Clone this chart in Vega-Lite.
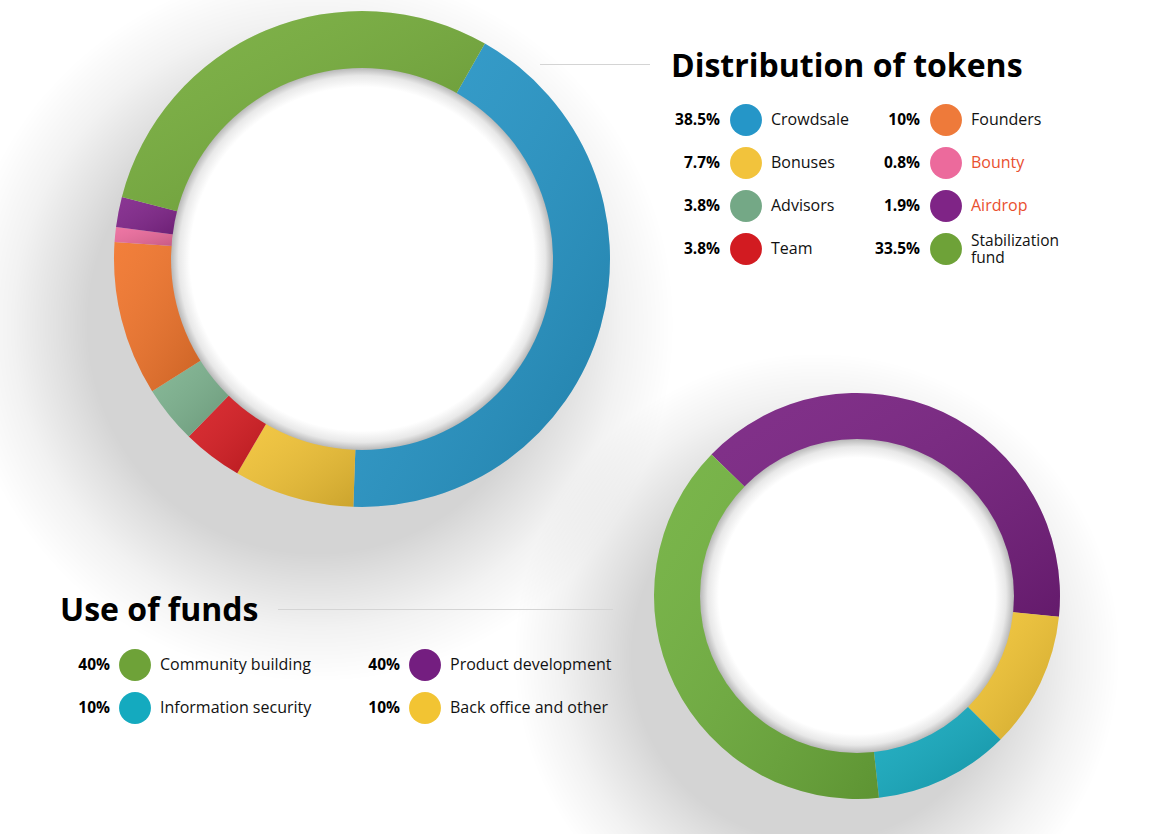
{
  "$schema": "https://vega.github.io/schema/vega-lite/v6.json",
  "width": 1172,
  "height": 834,
  "autosize": {"type": "none"},
  "padding": 0,
  "background": "#ffffff",
  "config": {"view": {"stroke": null}, "font": "Open Sans", "legend": {"disable": true}},
  "datasets": {
    "tokens": [
      {"panel": "tokens", "name": "Crowdsale", "label": "Crowdsale", "pct": "38.5%", "deg": 152.3, "seq": 1, "col": 1, "row": 1, "lines": 1},
      {"panel": "tokens", "name": "Bonuses", "label": "Bonuses", "pct": "7.7%", "deg": 28.2, "seq": 2, "col": 1, "row": 2, "lines": 1},
      {"panel": "tokens", "name": "Team", "label": "Team", "pct": "3.8%", "deg": 14.1, "seq": 3, "col": 1, "row": 4, "lines": 1},
      {"panel": "tokens", "name": "Advisors", "label": "Advisors", "pct": "3.8%", "deg": 13.5, "seq": 4, "col": 1, "row": 3, "lines": 1},
      {"panel": "tokens", "name": "Founders", "label": "Founders", "pct": "10%", "deg": 36.1, "seq": 5, "col": 2, "row": 1, "lines": 1},
      {"panel": "tokens", "name": "Bounty", "label": "Bounty", "pct": "0.8%", "deg": 3.5, "seq": 6, "col": 2, "row": 2, "lines": 1},
      {"panel": "tokens", "name": "Airdrop", "label": "Airdrop", "pct": "1.9%", "deg": 7.1, "seq": 7, "col": 2, "row": 3, "lines": 1},
      {"panel": "tokens", "name": "Stabilization fund", "label": "Stabilization\nfund", "pct": "33.5%", "deg": 105.2, "seq": 8, "col": 2, "row": 4, "lines": 2}
    ],
    "funds": [
      {"panel": "funds", "name": "Product development", "pct": "40%", "deg": 141.7, "seq": 1, "col": 2, "row": 1},
      {"panel": "funds", "name": "Back office and other", "pct": "10%", "deg": 39.1, "seq": 2, "col": 2, "row": 2},
      {"panel": "funds", "name": "Information security", "pct": "10%", "deg": 38.8, "seq": 3, "col": 1, "row": 2},
      {"panel": "funds", "name": "Community building", "pct": "40%", "deg": 140.4, "seq": 4, "col": 1, "row": 1}
    ],
    "panels": [
      {"panel": "tokens", "title": "Distribution of tokens"},
      {"panel": "funds", "title": "Use of funds"}
    ]
  },
  "resolve": {"scale": {"x": "independent", "y": "independent", "theta": "independent", "color": "independent", "size": "independent"}},
  "layer": [
    {
      "data": {"name": "panels"},
      "transform": [{"filter": "datum.panel === 'tokens'"}],
      "mark": {"type": "arc", "theta": 0, "theta2": 6.2832, "radius": 460, "radius2": 0,
        "fill": {"gradient": "radial", "x1": 0.451, "y1": 0.571, "r1": 0, "x2": 0.451, "y2": 0.571, "r2": 0.389,
          "stops": [{"offset": 0, "color": "rgba(0,0,0,0.17)"}, {"offset": 0.64, "color": "rgba(0,0,0,0.17)"}, {"offset": 0.72, "color": "rgba(0,0,0,0.12)"}, {"offset": 0.85, "color": "rgba(0,0,0,0.05)"}, {"offset": 1, "color": "rgba(0,0,0,0)"}]}},
      "encoding": {
        "x": {"field": "panel", "type": "nominal", "scale": {"type": "point", "domain": ["tokens", "funds"], "range": [362, 857], "padding": 0}, "axis": null},
        "y": {"field": "panel", "type": "nominal", "scale": {"type": "point", "domain": ["tokens", "funds"], "range": [259, 596], "padding": 0}, "axis": null}
      }
    },
    {
      "data": {"name": "panels"},
      "transform": [{"filter": "datum.panel === 'funds'"}],
      "mark": {"type": "arc", "theta": 0, "theta2": 6.2832, "radius": 400, "radius2": 0,
        "fill": {"gradient": "radial", "x1": 0.45, "y1": 0.575, "r1": 0, "x2": 0.45, "y2": 0.575, "r2": 0.379,
          "stops": [{"offset": 0, "color": "rgba(0,0,0,0.17)"}, {"offset": 0.61, "color": "rgba(0,0,0,0.17)"}, {"offset": 0.7, "color": "rgba(0,0,0,0.12)"}, {"offset": 0.85, "color": "rgba(0,0,0,0.05)"}, {"offset": 1, "color": "rgba(0,0,0,0)"}]}},
      "encoding": {
        "x": {"field": "panel", "type": "nominal", "scale": {"type": "point", "domain": ["tokens", "funds"], "range": [362, 857], "padding": 0}, "axis": null},
        "y": {"field": "panel", "type": "nominal", "scale": {"type": "point", "domain": ["tokens", "funds"], "range": [259, 596], "padding": 0}, "axis": null}
      }
    },
    {
      "data": {"name": "tokens"},
      "mark": {"type": "arc", "radius": 248, "radius2": 190},
      "encoding": {
        "x": {"field": "panel", "type": "nominal", "scale": {"type": "point", "domain": ["tokens", "funds"], "range": [362, 857], "padding": 0}, "axis": null},
        "y": {"field": "panel", "type": "nominal", "scale": {"type": "point", "domain": ["tokens", "funds"], "range": [259, 596], "padding": 0}, "axis": null},
        "theta": {"field": "deg", "type": "quantitative", "stack": true, "scale": {"domain": [0, 360], "range": [0.5184, 6.8016], "nice": false}},
        "order": {"field": "seq", "type": "quantitative"},
        "color": {"field": "name", "type": "nominal", "legend": null,
          "scale": {"domain": ["Crowdsale", "Bonuses", "Team", "Advisors", "Founders", "Bounty", "Airdrop", "Stabilization fund"],
            "range": ["#2596c8", "#f2c335", "#d71c22", "#7cb28e", "#f1742a", "#ec6a9c", "#80248a", "#75ad3a"]}}
      }
    },
    {
      "data": {"name": "tokens"},
      "mark": {"type": "arc", "radius": 248, "radius2": 190,
        "fill": {"gradient": "linear", "x1": 0, "y1": 0, "x2": 1, "y2": 1,
          "stops": [{"offset": 0, "color": "rgba(255,255,255,0.08)"}, {"offset": 1, "color": "rgba(0,0,0,0.16)"}]}},
      "encoding": {
        "x": {"field": "panel", "type": "nominal", "scale": {"type": "point", "domain": ["tokens", "funds"], "range": [362, 857], "padding": 0}, "axis": null},
        "y": {"field": "panel", "type": "nominal", "scale": {"type": "point", "domain": ["tokens", "funds"], "range": [259, 596], "padding": 0}, "axis": null},
        "theta": {"field": "deg", "type": "quantitative", "stack": true, "scale": {"domain": [0, 360], "range": [0.5184, 6.8016], "nice": false}},
        "order": {"field": "seq", "type": "quantitative"}
      }
    },
    {
      "data": {"name": "funds"},
      "mark": {"type": "arc", "radius": 203, "radius2": 156},
      "encoding": {
        "x": {"field": "panel", "type": "nominal", "scale": {"type": "point", "domain": ["tokens", "funds"], "range": [362, 857], "padding": 0}, "axis": null},
        "y": {"field": "panel", "type": "nominal", "scale": {"type": "point", "domain": ["tokens", "funds"], "range": [259, 596], "padding": 0}, "axis": null},
        "theta": {"field": "deg", "type": "quantitative", "stack": true, "scale": {"domain": [0, 360], "range": [5.4838, 11.767], "nice": false}},
        "order": {"field": "seq", "type": "quantitative"},
        "color": {"field": "name", "type": "nominal", "legend": null,
          "scale": {"domain": ["Product development", "Back office and other", "Information security", "Community building"],
            "range": ["#771f80", "#f2c433", "#14aabf", "#6fb03c"]}}
      }
    },
    {
      "data": {"name": "funds"},
      "mark": {"type": "arc", "radius": 203, "radius2": 156,
        "fill": {"gradient": "linear", "x1": 0, "y1": 0, "x2": 1, "y2": 1,
          "stops": [{"offset": 0, "color": "rgba(255,255,255,0.08)"}, {"offset": 1, "color": "rgba(0,0,0,0.16)"}]}},
      "encoding": {
        "x": {"field": "panel", "type": "nominal", "scale": {"type": "point", "domain": ["tokens", "funds"], "range": [362, 857], "padding": 0}, "axis": null},
        "y": {"field": "panel", "type": "nominal", "scale": {"type": "point", "domain": ["tokens", "funds"], "range": [259, 596], "padding": 0}, "axis": null},
        "theta": {"field": "deg", "type": "quantitative", "stack": true, "scale": {"domain": [0, 360], "range": [5.4838, 11.767], "nice": false}},
        "order": {"field": "seq", "type": "quantitative"}
      }
    },
    {
      "data": {"name": "panels"},
      "transform": [{"filter": "datum.panel === 'tokens'"}],
      "mark": {"type": "arc", "theta": 0, "theta2": 6.2832, "radius": 191, "radius2": 0,
        "fill": {"gradient": "radial", "x1": 0.5, "y1": 0.5, "r1": 0, "x2": 0.5, "y2": 0.5, "r2": 0.5,
          "stops": [{"offset": 0, "color": "#ffffff"}, {"offset": 0.9, "color": "#ffffff"}, {"offset": 0.96, "color": "#e8e8e8"}, {"offset": 1, "color": "#b8b8b8"}]}},
      "encoding": {
        "x": {"field": "panel", "type": "nominal", "scale": {"type": "point", "domain": ["tokens", "funds"], "range": [362, 857], "padding": 0}, "axis": null},
        "y": {"field": "panel", "type": "nominal", "scale": {"type": "point", "domain": ["tokens", "funds"], "range": [259, 596], "padding": 0}, "axis": null}
      }
    },
    {
      "data": {"name": "panels"},
      "transform": [{"filter": "datum.panel === 'funds'"}],
      "mark": {"type": "arc", "theta": 0, "theta2": 6.2832, "radius": 157, "radius2": 0,
        "fill": {"gradient": "radial", "x1": 0.5, "y1": 0.5, "r1": 0, "x2": 0.5, "y2": 0.5, "r2": 0.5,
          "stops": [{"offset": 0, "color": "#ffffff"}, {"offset": 0.88, "color": "#ffffff"}, {"offset": 0.95, "color": "#e8e8e8"}, {"offset": 1, "color": "#b8b8b8"}]}},
      "encoding": {
        "x": {"field": "panel", "type": "nominal", "scale": {"type": "point", "domain": ["tokens", "funds"], "range": [362, 857], "padding": 0}, "axis": null},
        "y": {"field": "panel", "type": "nominal", "scale": {"type": "point", "domain": ["tokens", "funds"], "range": [259, 596], "padding": 0}, "axis": null}
      }
    },
    {
      "data": {"name": "panels"},
      "mark": {"type": "tick", "orient": "horizontal", "thickness": 1, "color": "#d4d4d4", "opacity": 1},
      "encoding": {
        "x": {"field": "panel", "type": "nominal", "scale": {"type": "point", "domain": ["tokens", "funds"], "range": [595, 445.5], "padding": 0}, "axis": null},
        "y": {"field": "panel", "type": "nominal", "scale": {"type": "point", "domain": ["tokens", "funds"], "range": [64.5, 609.5], "padding": 0}, "axis": null},
        "size": {"field": "panel", "type": "nominal", "scale": {"type": "ordinal", "domain": ["tokens", "funds"], "range": [110, 335]}, "legend": null}
      }
    },
    {
      "data": {"name": "panels"},
      "mark": {"type": "text", "align": "left", "baseline": "alphabetic", "fontWeight": "bold", "fontSize": 32, "color": "#000000"},
      "encoding": {
        "x": {"field": "panel", "type": "nominal", "scale": {"type": "point", "domain": ["tokens", "funds"], "range": [671, 60], "padding": 0}, "axis": null},
        "y": {"field": "panel", "type": "nominal", "scale": {"type": "point", "domain": ["tokens", "funds"], "range": [77, 621], "padding": 0}, "axis": null},
        "text": {"field": "title", "type": "nominal"}
      }
    },
    {
      "data": {"name": "tokens"},
      "mark": {"type": "point", "shape": "circle", "filled": true, "size": 1018, "opacity": 1},
      "encoding": {
        "x": {"field": "col", "type": "ordinal", "scale": {"type": "point", "domain": [1, 2], "range": [746, 946], "padding": 0}, "axis": null},
        "y": {"field": "row", "type": "ordinal", "scale": {"type": "point", "domain": [1, 2, 3, 4], "range": [120, 249], "padding": 0}, "axis": null},
        "color": {"field": "name", "type": "nominal", "legend": null,
          "scale": {"domain": ["Crowdsale", "Bonuses", "Team", "Advisors", "Founders", "Bounty", "Airdrop", "Stabilization fund"],
            "range": ["#2596c8", "#f2c33c", "#d21b21", "#74a886", "#ee7a3a", "#ec6a9c", "#7f2486", "#6ea238"]}}
      }
    },
    {
      "data": {"name": "tokens"},
      "mark": {"type": "text", "align": "right", "baseline": "middle", "dx": -26, "fontWeight": "bold", "fontSize": 15.5, "color": "#000000"},
      "encoding": {
        "x": {"field": "col", "type": "ordinal", "scale": {"type": "point", "domain": [1, 2], "range": [746, 946], "padding": 0}, "axis": null},
        "y": {"field": "row", "type": "ordinal", "scale": {"type": "point", "domain": [1, 2, 3, 4], "range": [120, 249], "padding": 0}, "axis": null},
        "text": {"field": "pct", "type": "nominal"}
      }
    },
    {
      "data": {"name": "tokens"},
      "transform": [{"filter": "datum.lines === 1"}],
      "mark": {"type": "text", "align": "left", "baseline": "middle", "dx": 25, "fontSize": 16},
      "encoding": {
        "x": {"field": "col", "type": "ordinal", "scale": {"type": "point", "domain": [1, 2], "range": [746, 946], "padding": 0}, "axis": null},
        "y": {"field": "row", "type": "ordinal", "scale": {"type": "point", "domain": [1, 2, 3, 4], "range": [120, 249], "padding": 0}, "axis": null},
        "text": {"field": "label", "type": "nominal"},
        "color": {"condition": {"test": "datum.name === 'Bounty' || datum.name === 'Airdrop'", "value": "#e9502f"}, "value": "#111111"}
      }
    },
    {
      "data": {"name": "tokens"},
      "transform": [{"filter": "datum.lines === 2"}],
      "mark": {"type": "text", "align": "left", "baseline": "middle", "dx": 25, "dy": -8.5, "fontSize": 15.5, "lineBreak": "\n", "lineHeight": 17, "color": "#111111"},
      "encoding": {
        "x": {"field": "col", "type": "ordinal", "scale": {"type": "point", "domain": [1, 2], "range": [746, 946], "padding": 0}, "axis": null},
        "y": {"field": "row", "type": "ordinal", "scale": {"type": "point", "domain": [1, 2, 3, 4], "range": [120, 249], "padding": 0}, "axis": null},
        "text": {"field": "label", "type": "nominal"}
      }
    },
    {
      "data": {"name": "funds"},
      "mark": {"type": "point", "shape": "circle", "filled": true, "size": 1018, "opacity": 1},
      "encoding": {
        "x": {"field": "col", "type": "ordinal", "scale": {"type": "point", "domain": [1, 2], "range": [135, 425], "padding": 0}, "axis": null},
        "y": {"field": "row", "type": "ordinal", "scale": {"type": "point", "domain": [1, 2], "range": [665, 708], "padding": 0}, "axis": null},
        "color": {"field": "name", "type": "nominal", "legend": null,
          "scale": {"domain": ["Product development", "Back office and other", "Information security", "Community building"],
            "range": ["#741e80", "#f2c433", "#14aabf", "#6ea238"]}}
      }
    },
    {
      "data": {"name": "funds"},
      "mark": {"type": "text", "align": "right", "baseline": "middle", "dx": -25, "fontWeight": "bold", "fontSize": 15.5, "color": "#000000"},
      "encoding": {
        "x": {"field": "col", "type": "ordinal", "scale": {"type": "point", "domain": [1, 2], "range": [135, 425], "padding": 0}, "axis": null},
        "y": {"field": "row", "type": "ordinal", "scale": {"type": "point", "domain": [1, 2], "range": [665, 708], "padding": 0}, "axis": null},
        "text": {"field": "pct", "type": "nominal"}
      }
    },
    {
      "data": {"name": "funds"},
      "mark": {"type": "text", "align": "left", "baseline": "middle", "dx": 25, "fontSize": 16, "color": "#111111"},
      "encoding": {
        "x": {"field": "col", "type": "ordinal", "scale": {"type": "point", "domain": [1, 2], "range": [135, 425], "padding": 0}, "axis": null},
        "y": {"field": "row", "type": "ordinal", "scale": {"type": "point", "domain": [1, 2], "range": [665, 708], "padding": 0}, "axis": null},
        "text": {"field": "name", "type": "nominal"}
      }
    }
  ]
}
